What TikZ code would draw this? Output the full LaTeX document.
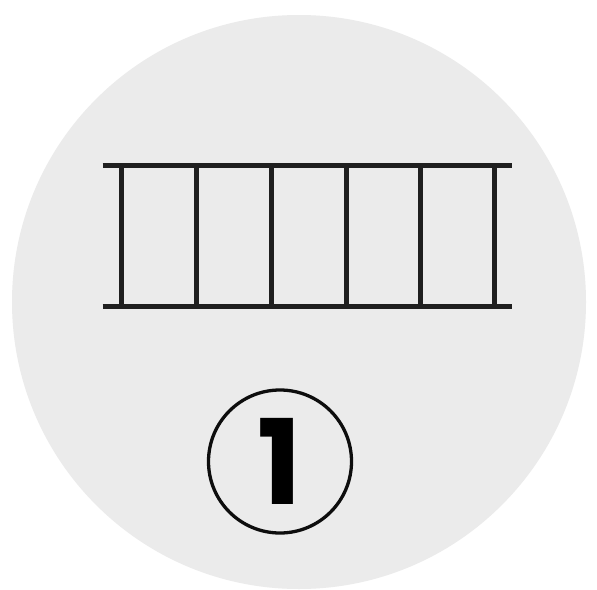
\documentclass[tikz,border=0pt]{standalone}
\usepackage{fontspec}
\setmainfont{Poppins}
\begin{document}
\begin{tikzpicture}[x=1pt,y=-1pt,
  rail/.style={line width=5pt,draw=black!88},
  badge/.style={circle,draw=black!95,line width=3.3pt,minimum size=143pt,inner sep=0pt,
     font=\fontsize{118}{118}\bfseries\selectfont}]
\useasboundingbox (0,0) rectangle (597,589);
\fill[white] (0,0) rectangle (597,589);
\fill[black!8] (299,302) circle (287);
\coordinate (tl) at (102.5,165);
\coordinate (tr) at (512,165);
\coordinate (bl) at (102.5,306.5);
\coordinate (br) at (512,306.5);
\draw[rail] (tl) -- (tr);
\draw[rail] (bl) -- (br);
\foreach \x in {121.5,196,271,346,420,494}{
  \draw[rail] (\x,165) -- (\x,306.5);
}
\node[badge] (num) at (280,461.5) {\raisebox{-1pt}{1}};
\end{tikzpicture}
\end{document}
